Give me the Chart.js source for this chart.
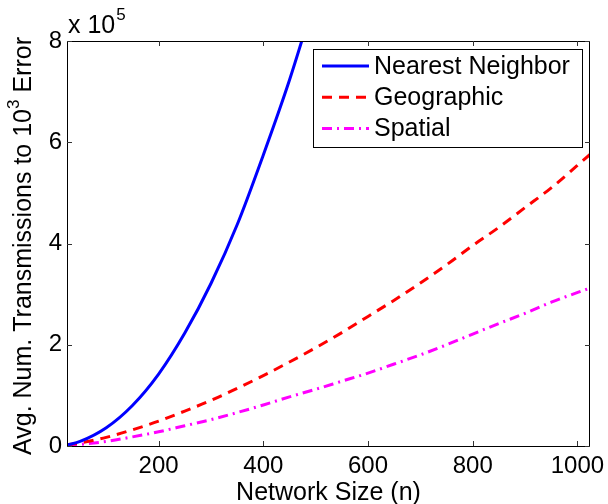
<!DOCTYPE html>
<html lang="en">
<head>
    <meta charset="UTF-8">
    <title>Avg. Transmissions vs Network Size</title>
    <script src="https://cdn.jsdelivr.net/npm/chart.js"></script>
    <style>
        html, body {
            margin: 0;
            padding: 0;
            background: white; /* plain white page like the figure */
        }
        #wrap {
            width: 608px;
            height: 504px;
            position: relative;
        }
    </style>
</head>
<body>
    <div id="wrap">
        <canvas id="chart"></canvas>
    </div>

    <script>
        // network sizes (n) sampled along the curves
        const sizes = [25, 50, 100, 150, 200, 250, 300, 350, 400, 450, 500, 550, 600, 650, 700, 750, 800, 850, 900, 950, 1024];
        // values, in units of 1e5 transmissions
        const nearestNeighbor = [0.02, 0.09, 0.36, 0.80, 1.42, 2.23, 3.21, 4.37, 5.75, 7.23, 8.90];
        const geographic = [0.02, 0.06, 0.17, 0.32, 0.49, 0.69, 0.90, 1.14, 1.39, 1.66, 1.94, 2.24, 2.56, 2.88, 3.22, 3.58, 3.96, 4.32, 4.71, 5.10, 5.76];
        const spatial = [0.01, 0.03, 0.09, 0.18, 0.28, 0.40, 0.52, 0.66, 0.81, 0.97, 1.12, 1.28, 1.44, 1.62, 1.80, 2.00, 2.21, 2.42, 2.62, 2.84, 3.12];
        const seriesNames = ['Nearest Neighbor', 'Geographic', 'Spatial'];
        const xTicks = [200, 400, 600, 800, 1000];
        const yTicks = [0, 2, 4, 6, 8];
        const yScaleFactor = 1e5;

        const FONT = '"Liberation Sans", Arial, sans-serif';

        function toPoints(vals) {
            return vals.map((v, i) => ({ x: sizes[i], y: v * yScaleFactor }));
        }

        // MATLAB style frame, inward ticks, axis labels and legend
        const matlabFrame = {
            id: 'matlabFrame',
            afterDraw(chart) {
                const ctx = chart.ctx;
                const a = chart.chartArea;
                const xs = chart.scales.x;
                const ys = chart.scales.y;
                ctx.save();

                // box
                ctx.strokeStyle = '#000';
                ctx.lineWidth = 1;
                ctx.strokeRect(a.left + 0.5, a.top + 0.5, a.right - a.left - 1, a.bottom - a.top);

                // inward ticks on all four sides
                ctx.strokeStyle = '#333';
                ctx.beginPath();
                xTicks.forEach(t => {
                    const px = Math.round(xs.getPixelForValue(t)) + 0.5;
                    ctx.moveTo(px, a.bottom); ctx.lineTo(px, a.bottom - 5);
                    ctx.moveTo(px, a.top); ctx.lineTo(px, a.top + 5);
                });
                yTicks.forEach(t => {
                    const py = Math.round(ys.getPixelForValue(t * yScaleFactor)) + 0.5;
                    ctx.moveTo(a.left, py); ctx.lineTo(a.left + 5, py);
                    ctx.moveTo(a.right, py); ctx.lineTo(a.right - 5, py);
                });
                ctx.stroke();

                ctx.fillStyle = '#000';
                ctx.textBaseline = 'alphabetic';

                // exponent label above the y axis
                ctx.textAlign = 'left';
                ctx.font = '25px ' + FONT;
                ctx.fillText('x 10', a.left + 1, 33);
                const w10 = ctx.measureText('x 10').width;
                ctx.font = '17px ' + FONT;
                ctx.fillText('5', a.left + 1 + w10 + 1, 20);

                // x axis title
                ctx.font = '25px ' + FONT;
                ctx.textAlign = 'center';
                ctx.fillText('Network Size (n)', (a.left + a.right) / 2, 500);

                // y axis title with superscript
                const p1 = 'Avg. Num. Transmissions to 10';
                const p2 = '3';
                const p3 = ' Error';
                ctx.font = '25px ' + FONT;
                const w1 = ctx.measureText(p1).width;
                const w3 = ctx.measureText(p3).width;
                ctx.font = '17px ' + FONT;
                const w2 = ctx.measureText(p2).width;
                const total = w1 + w2 + w3;
                ctx.translate(31, 246);
                ctx.rotate(-Math.PI / 2);
                ctx.textAlign = 'left';
                let cx = -total / 2;
                ctx.font = '25px ' + FONT;
                ctx.fillText(p1, cx, 0);
                cx += w1;
                ctx.font = '17px ' + FONT;
                ctx.fillText(p2, cx, -12);
                cx += w2;
                ctx.font = '25px ' + FONT;
                ctx.fillText(p3, cx, 0);
                ctx.setTransform(1, 0, 0, 1, 0, 0);

                // legend box
                const lx = 313, ly = 49, lw = 269, lh = 98;
                ctx.fillStyle = '#fff';
                ctx.fillRect(lx, ly, lw, lh);
                ctx.strokeStyle = '#000';
                ctx.lineWidth = 1;
                ctx.strokeRect(lx + 0.5, ly + 0.5, lw, lh);
                ctx.font = '25px ' + FONT;
                ctx.textAlign = 'left';
                ctx.textBaseline = 'middle';
                chart.data.datasets.forEach((ds, i) => {
                    const yy = 66 + i * 31.3;
                    ctx.strokeStyle = ds.borderColor;
                    ctx.lineWidth = ds.borderWidth;
                    ctx.setLineDash(ds.borderDash || []);
                    ctx.beginPath();
                    ctx.moveTo(322, yy);
                    ctx.lineTo(369, yy);
                    ctx.stroke();
                    ctx.setLineDash([]);
                    ctx.fillStyle = '#000';
                    ctx.fillText(ds.label, 374, yy + 1);
                });

                ctx.restore();
            }
        };

        new Chart(document.getElementById('chart'), {
            type: 'line',
            data: {
                datasets: [
                    {
                        label: seriesNames[0],
                        data: toPoints(nearestNeighbor),
                        borderColor: '#0000ff',
                        borderWidth: 3,
                        borderDash: [],
                        pointRadius: 0,
                        cubicInterpolationMode: 'monotone'
                    },
                    {
                        label: seriesNames[1],
                        data: toPoints(geographic),
                        borderColor: '#ff0000',
                        borderWidth: 3,
                        borderDash: [10, 7],
                        pointRadius: 0,
                        cubicInterpolationMode: 'monotone'
                    },
                    {
                        label: seriesNames[2],
                        data: toPoints(spatial),
                        borderColor: '#ff00ff',
                        borderWidth: 3,
                        borderDash: [10, 5, 2, 5],
                        pointRadius: 0,
                        cubicInterpolationMode: 'monotone'
                    }
                ]
            },
            options: {
                responsive: true,
                maintainAspectRatio: false,
                animation: false,
                events: [],
                layout: {
                    padding: { left: 0, right: 18, top: 41, bottom: 0 }
                },
                plugins: {
                    legend: { display: false },
                    tooltip: { enabled: false }
                },
                scales: {
                    x: {
                        type: 'linear',
                        min: 25,
                        max: 1024,
                        grid: { display: false, drawTicks: false },
                        border: { display: false },
                        afterBuildTicks: s => { s.ticks = xTicks.map(v => ({ value: v })); },
                        afterFit: s => {
                            s.height = 58;
                            s.paddingLeft = 0;
                            s.paddingRight = 0;
                        },
                        ticks: {
                            color: '#000',
                            padding: 6,
                            maxRotation: 0,
                            font: { family: FONT, size: 24 },
                            callback: v => String(v)
                        }
                    },
                    y: {
                        type: 'linear',
                        min: 0,
                        max: 8 * yScaleFactor,
                        grid: { display: false, drawTicks: false },
                        border: { display: false },
                        afterBuildTicks: s => { s.ticks = yTicks.map(v => ({ value: v * yScaleFactor })); },
                        afterFit: s => {
                            s.width = 67;
                            s.paddingTop = 0;
                            s.paddingBottom = 0;
                        },
                        ticks: {
                            color: '#000',
                            padding: 5,
                            font: { family: FONT, size: 24 },
                            callback: v => String(v / yScaleFactor)
                        }
                    }
                }
            },
            plugins: [matlabFrame]
        });
    </script>
</body>
</html>
